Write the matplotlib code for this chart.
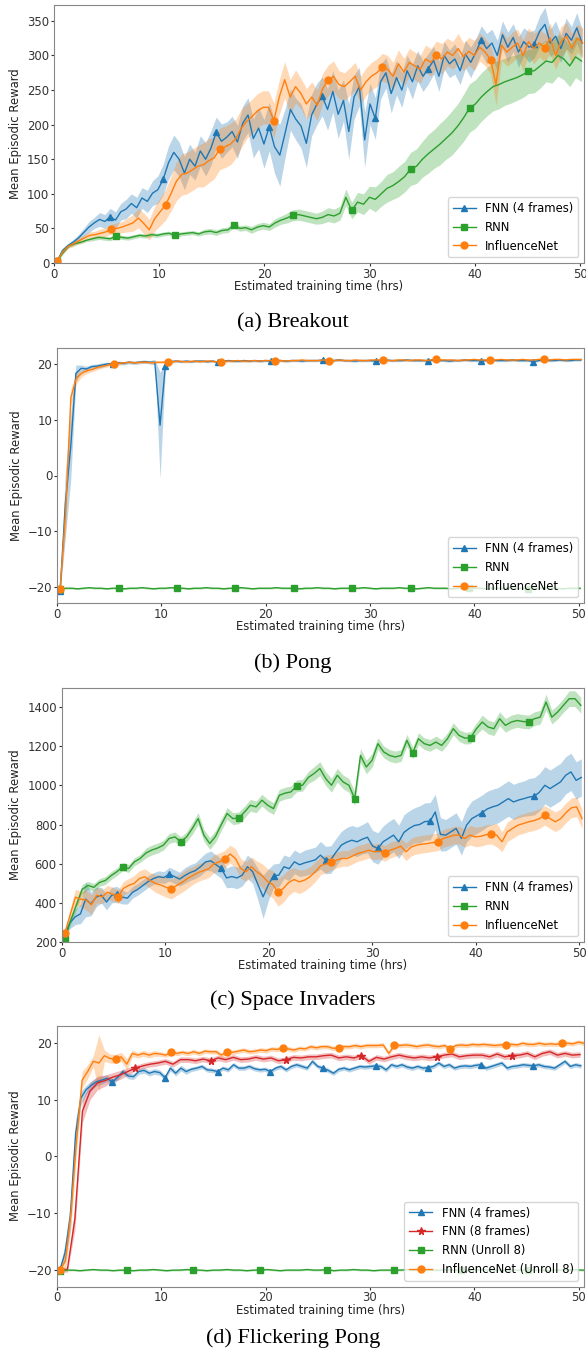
import numpy as np
import matplotlib
matplotlib.use("Agg")
import matplotlib.pyplot as plt

plt.rcParams['font.family'] = 'DejaVu Sans'
plt.rcParams['font.size'] = 8.4

BLUE, GREEN, ORANGE, RED = '#1f77b4', '#2ca02c', '#ff7f0e', '#d62728'

# hours between two logged evaluations (each method runs at its own speed)
T0 = 0.3
DT_FNN, DT_INF, DT_RNN = 0.504, 0.515, 0.56
DT_FNN8, DT_INF8, DT_RNN8 = 0.722, 0.534, 0.64

xticks = [0, 10, 20, 30, 40, 50]

# ---------------- (a) Breakout ----------------
bo_fnn = [3, 18, 25, 30, 36, 44, 52, 58, 63, 60,
          67, 62, 74, 78, 86, 80, 94, 89, 101, 106,
          121, 145, 160, 150, 130, 150, 140, 162, 150, 166,
          189, 176, 182, 190, 175, 202, 214, 180, 195, 172,
          197, 168, 156, 188, 222, 208, 198, 173, 214, 230,
          241, 222, 248, 215, 235, 190, 240, 255, 178, 230,
          209, 262, 275, 245, 268, 250, 278, 262, 285, 270,
          281, 293, 270, 300, 288, 295, 278, 302, 290, 305,
          323, 310, 318, 300, 330, 312, 326, 305, 320, 312,
          317, 335, 345, 318, 328, 310, 332, 322, 340, 318]
bo_fnn_sd = [1, 3, 3, 4, 5, 6, 8, 8, 10, 10,
             12, 12, 12, 14, 14, 15, 15, 16, 18, 20,
             22, 24, 25, 25, 24, 22, 20, 22, 24, 25,
             22, 25, 22, 22, 24, 25, 25, 28, 30, 35,
             35, 38, 45, 35, 30, 30, 32, 35, 30, 30,
             28, 30, 30, 35, 30, 40, 32, 28, 40, 30,
             30, 25, 22, 28, 25, 25, 22, 25, 22, 22,
             22, 20, 22, 20, 20, 22, 20, 20, 22, 20,
             20, 22, 20, 22, 20, 22, 20, 22, 20, 22,
             20, 22, 25, 20, 22, 20, 22, 20, 22, 20]
bo_inf = [3, 16, 24, 28, 32, 36, 40, 41, 43, 45,
          49, 50, 52, 55, 58, 65, 57, 48, 64, 74,
          84, 100, 118, 128, 130, 135, 140, 142, 148, 152,
          165, 168, 172, 180, 195, 205, 212, 220, 225, 225,
          206, 240, 265, 240, 255, 245, 230, 240, 228, 252,
          264, 270, 258, 255, 262, 270, 250, 262, 270, 275,
          283, 280, 270, 288, 276, 290, 285, 280, 295, 290,
          301, 295, 305, 300, 310, 298, 306, 300, 312, 305,
          294, 258, 315, 305, 312, 318, 300, 320, 310, 318,
          311, 325, 300, 320, 328, 310, 325, 318]
bo_inf_sd = [1, 3, 3, 4, 4, 5, 5, 5, 6, 6,
             7, 8, 8, 10, 12, 14, 15, 15, 18, 20,
             22, 25, 28, 30, 30, 30, 30, 32, 32, 30,
             30, 30, 30, 28, 28, 25, 25, 25, 24, 24,
             25, 25, 26, 25, 24, 22, 22, 22, 22, 22,
             22, 22, 20, 20, 20, 20, 20, 20, 20, 20,
             20, 20, 20, 20, 20, 20, 20, 20, 20, 20,
             20, 22, 20, 20, 22, 20, 20, 22, 20, 20,
             20, 30, 22, 20, 22, 20, 22, 20, 22, 20,
             20, 22, 20, 22, 20, 22, 20, 22]
bo_rnn = [3, 15, 25, 28, 30, 33, 35, 37, 36, 35,
          39, 37, 36, 38, 40, 39, 41, 40, 42, 43,
          40, 42, 43, 44, 42, 45, 46, 44, 47, 48,
          55, 50, 51, 48, 52, 54, 52, 58, 62, 65,
          69, 70, 68, 66, 64, 66, 70, 68, 72, 95,
          76, 88, 85, 95, 92, 100, 108, 112, 118, 125,
          136, 140, 150, 158, 165, 172, 180, 188, 198, 210,
          224, 230, 240, 248, 255, 258, 262, 265, 268, 272,
          277, 278, 285, 292, 290, 300, 295, 285, 298, 292]
bo_rnn_sd = [1, 2, 2, 2, 2, 2, 3, 3, 3, 3,
             3, 3, 3, 3, 3, 3, 3, 3, 3, 3,
             3, 3, 3, 3, 3, 4, 4, 4, 4, 4,
             4, 4, 4, 5, 5, 5, 5, 6, 6, 7,
             8, 8, 8, 8, 8, 9, 10, 10, 10, 12,
             12, 14, 15, 16, 18, 18, 20, 20, 22, 22,
             24, 25, 26, 28, 28, 30, 30, 32, 32, 34,
             35, 35, 35, 35, 35, 35, 34, 34, 33, 33,
             32, 32, 32, 30, 30, 30, 30, 30, 30, 30]

# ---------------- (b) Pong ----------------
po_fnn = [-20.7, -5.0, 5.0, 18.3, 19.2, 19.1, 19.5, 19.6, 19.8, 20.0,
          20.0, 20.2, 20.1, 20.3, 20.2, 20.3, 20.4, 20.3, 20.3, 9.0,
          19.6, 20.4, 20.5, 20.4, 20.5, 20.4, 20.5, 20.5, 20.4, 20.5,
          20.3, 20.5, 20.6, 20.5, 20.5, 20.6, 20.5, 20.6, 20.5, 20.6,
          20.5, 20.6, 20.6, 20.5, 20.6, 20.6, 20.5, 20.6, 20.6, 20.6,
          20.7, 20.6, 20.6, 20.7, 20.6, 20.6, 20.5, 20.6, 20.6, 20.6,
          20.5, 20.6, 20.7, 20.6, 20.6, 20.6, 20.7, 20.6, 20.6, 20.6,
          20.6, 20.7, 20.6, 20.6, 20.5, 20.6, 20.6, 20.7, 20.6, 20.6,
          20.6, 20.6, 20.7, 20.6, 20.6, 20.6, 20.7, 20.6, 20.6, 20.6,
          20.4, 20.6, 20.7, 20.6, 20.6, 20.7, 20.6, 20.6, 20.7, 20.7]
po_fnn_sd = [0.3, 6.0, 6.0, 1.5, 0.6, 0.5, 0.4, 0.4, 0.4, 0.3,
             0.3, 0.3, 0.3, 0.3, 0.3, 0.3, 0.3, 0.3, 0.5, 9.5,
             0.8, 0.3, 0.2, 0.2, 0.2, 0.2, 0.2, 0.2, 0.2, 0.2,
             0.2, 0.2, 0.2, 0.2, 0.2, 0.2, 0.2, 0.2, 0.2, 0.2,
             0.2, 0.2, 0.2, 0.2, 0.2, 0.2, 0.2, 0.2, 0.2, 0.2,
             0.2, 0.2, 0.2, 0.2, 0.2, 0.2, 0.2, 0.2, 0.2, 0.2,
             0.2, 0.2, 0.2, 0.2, 0.2, 0.2, 0.2, 0.2, 0.2, 0.2,
             0.2, 0.2, 0.2, 0.2, 0.2, 0.2, 0.2, 0.2, 0.2, 0.2,
             0.2, 0.2, 0.2, 0.2, 0.2, 0.2, 0.2, 0.2, 0.2, 0.2,
             0.2, 0.2, 0.2, 0.2, 0.2, 0.2, 0.2, 0.2, 0.2, 0.2]
po_inf = [-20.3, -7.0, 14.0, 17.4, 18.3, 18.8, 19.0, 19.4, 19.6, 19.8,
          20.0, 20.1, 20.2, 20.3, 20.2, 20.3, 20.3, 20.2, 20.3, 20.3,
          20.4, 20.4, 20.5, 20.4, 20.4, 20.5, 20.4, 20.5, 20.5, 20.4,
          20.4, 20.5, 20.5, 20.6, 20.5, 20.5, 20.6, 20.5, 20.6, 20.6,
          20.6, 20.6, 20.5, 20.6, 20.6, 20.7, 20.6, 20.6, 20.6, 20.7,
          20.6, 20.6, 20.7, 20.6, 20.6, 20.7, 20.6, 20.6, 20.7, 20.7,
          20.7, 20.6, 20.6, 20.7, 20.7, 20.6, 20.7, 20.7, 20.6, 20.7,
          20.8, 20.7, 20.7, 20.7, 20.6, 20.7, 20.7, 20.8, 20.7, 20.7,
          20.7, 20.7, 20.8, 20.7, 20.7, 20.7, 20.8, 20.7, 20.7, 20.8,
          20.8, 20.7, 20.8, 20.8, 20.7, 20.8, 20.8, 20.8]
po_inf_sd = [0.3, 3.0, 1.5, 1.0, 0.6, 0.5, 0.4, 0.4, 0.3, 0.3,
             0.3, 0.3, 0.2, 0.2, 0.2, 0.2, 0.2, 0.2, 0.2, 0.2,
             0.2, 0.2, 0.2, 0.2, 0.2, 0.2, 0.2, 0.2, 0.2, 0.2,
             0.2, 0.2, 0.2, 0.2, 0.2, 0.2, 0.2, 0.2, 0.2, 0.2,
             0.2, 0.2, 0.2, 0.2, 0.2, 0.2, 0.2, 0.2, 0.2, 0.2,
             0.2, 0.2, 0.2, 0.2, 0.2, 0.2, 0.2, 0.2, 0.2, 0.2,
             0.2, 0.2, 0.2, 0.2, 0.2, 0.2, 0.2, 0.2, 0.2, 0.2,
             0.2, 0.2, 0.2, 0.2, 0.2, 0.2, 0.2, 0.2, 0.2, 0.2,
             0.2, 0.2, 0.2, 0.2, 0.2, 0.2, 0.2, 0.2, 0.2, 0.2,
             0.2, 0.2, 0.2, 0.2, 0.2, 0.2, 0.2, 0.2]
po_rnn = [-20.3, -20.2, -20.2, -20.3, -20.2, -20.1, -20.2, -20.2, -20.3, -20.2,
          -20.2, -20.3, -20.2, -20.2, -20.1, -20.2, -20.3, -20.2, -20.2, -20.1,
          -20.2, -20.2, -20.3, -20.2, -20.2, -20.1, -20.2, -20.2, -20.3, -20.2,
          -20.2, -20.1, -20.2, -20.3, -20.2, -20.2, -20.2, -20.1, -20.2, -20.2,
          -20.2, -20.3, -20.2, -20.2, -20.1, -20.2, -20.2, -20.3, -20.2, -20.2,
          -20.2, -20.2, -20.1, -20.2, -20.3, -20.2, -20.2, -20.2, -20.1, -20.2,
          -20.2, -20.3, -20.2, -20.1, -20.2, -20.2, -20.2, -20.3, -20.2, -20.2,
          -20.1, -20.2, -20.2, -20.3, -20.2, -20.2, -20.2, -20.1, -20.2, -20.2,
          -20.3, -20.2, -20.2, -20.1, -20.2, -20.2, -20.3, -20.2, -20.2, -20.2]
po_rnn_sd = 0.15

# ---------------- (c) Space Invaders ----------------
si_fnn = [240, 300, 330, 345, 420, 395, 430, 440, 405, 440,
          445, 430, 425, 455, 470, 490, 510, 525, 534, 530,
          547, 535, 522, 540, 555, 565, 585, 610, 615, 595,
          576, 528, 535, 528, 542, 585, 560, 495, 432, 492,
          539, 542, 585, 575, 610, 595, 605, 612, 620, 644,
          619, 622, 660, 695, 710, 720, 712, 725, 735, 690,
          678, 712, 729, 746, 712, 760, 780, 795, 800, 815,
          817, 864, 750, 746, 763, 780, 729, 797, 830, 845,
          861, 880, 890, 898, 915, 932, 915, 925, 932, 940,
          944, 966, 1000, 983, 1000, 1017, 1051, 1068, 1025, 1040]
si_fnn_sd = [10, 30, 40, 50, 90, 60, 50, 40, 40, 40,
             40, 35, 30, 30, 30, 30, 30, 30, 30, 30,
             35, 35, 35, 40, 40, 40, 45, 45, 50, 50,
             50, 50, 55, 55, 55, 60, 60, 80, 110, 80,
             60, 60, 60, 60, 60, 60, 65, 65, 65, 70,
             70, 70, 70, 70, 75, 75, 75, 75, 80, 80,
             80, 80, 85, 85, 85, 90, 90, 90, 95, 95,
             95, 90, 85, 80, 80, 80, 85, 85, 90, 90,
             90, 90, 90, 90, 90, 90, 90, 90, 90, 95,
             95, 95, 95, 95, 95, 95, 95, 95, 95, 95]
si_inf = [246, 340, 430, 420, 415, 392, 440, 432, 455, 445,
          432, 475, 490, 500, 525, 534, 515, 500, 492, 480,
          471, 490, 505, 525, 540, 555, 565, 575, 600, 610,
          624, 650, 627, 576, 560, 585, 559, 540, 510, 495,
          454, 475, 505, 520, 508, 517, 534, 560, 590, 600,
          607, 619, 627, 627, 640, 653, 660, 669, 661, 665,
          653, 669, 678, 690, 661, 686, 695, 700, 703, 708,
          712, 729, 737, 746, 746, 729, 746, 737, 740, 748,
          751, 746, 712, 763, 780, 797, 805, 814, 820, 830,
          847, 830, 814, 830, 860, 885, 890, 830]
si_inf_sd = [10, 30, 40, 40, 50, 50, 40, 35, 35, 35,
             35, 35, 35, 40, 40, 40, 40, 45, 50, 50,
             50, 50, 50, 50, 45, 45, 45, 45, 45, 45,
             45, 45, 50, 50, 50, 50, 55, 60, 65, 70,
             70, 70, 65, 60, 60, 55, 50, 50, 45, 45,
             40, 40, 40, 40, 40, 40, 40, 40, 40, 40,
             40, 40, 40, 40, 45, 45, 45, 45, 45, 45,
             45, 45, 45, 45, 45, 45, 50, 50, 50, 50,
             50, 60, 50, 50, 50, 50, 50, 50, 50, 50,
             50, 50, 50, 50, 50, 50, 50, 50]
si_rnn = [217, 310, 390, 470, 490, 480, 505, 515, 540, 560,
          585, 576, 610, 627, 655, 670, 680, 695, 729, 737,
          712, 737, 780, 830, 745, 703, 740, 800, 856, 830,
          834, 864, 898, 890, 924, 898, 881, 949, 960, 966,
          997, 1000, 1040, 1060, 1085, 1034, 1000, 1051, 1017, 1000,
          932, 1152, 1093, 1127, 1212, 1170, 1152, 1144, 1152, 1229,
          1164, 1237, 1212, 1203, 1220, 1203, 1237, 1288, 1254, 1240,
          1242, 1288, 1322, 1297, 1288, 1339, 1305, 1322, 1330, 1325,
          1322, 1339, 1347, 1424, 1347, 1373, 1407, 1441, 1441, 1407]
si_rnn_sd = [5, 20, 25, 25, 20, 20, 20, 20, 20, 20,
             20, 20, 20, 20, 25, 25, 25, 25, 25, 25,
             25, 25, 30, 30, 30, 30, 30, 30, 30, 30,
             30, 30, 30, 30, 30, 30, 30, 30, 30, 30,
             30, 30, 30, 35, 35, 35, 35, 35, 35, 35,
             35, 35, 35, 35, 30, 30, 30, 30, 30, 30,
             30, 30, 30, 30, 30, 30, 30, 30, 30, 30,
             30, 30, 35, 35, 35, 35, 35, 35, 35, 35,
             35, 35, 35, 40, 35, 35, 35, 40, 40, 40]

# ---------------- (d) Flickering Pong ----------------
fp_fnn4 = [-20.1, -17.0, -10.5, 4.0, 10.3, 11.8, 12.6, 13.2, 13.5, 13.8,
           13.1, 14.0, 15.0, 14.2, 14.1, 15.0, 15.2, 14.7, 15.0, 14.8,
           13.9, 15.6, 14.7, 15.6, 15.0, 15.4, 15.6, 15.9, 15.3, 15.2,
           15.0, 15.6, 15.3, 16.2, 15.6, 15.6, 15.9, 15.5, 15.3, 15.4,
           15.0, 15.6, 15.9, 15.3, 15.9, 16.2, 15.9, 15.6, 16.8, 15.9,
           15.6, 15.2, 14.7, 15.4, 15.6, 15.3, 15.6, 15.9, 15.8, 15.9,
           16.0, 15.9, 15.3, 16.2, 15.9, 16.2, 15.8, 15.6, 15.9, 15.6,
           15.7, 15.9, 16.5, 15.9, 16.2, 15.6, 15.9, 16.0, 15.9, 16.1,
           16.2, 15.6, 15.9, 16.2, 16.5, 15.6, 15.9, 16.0, 16.2, 16.1,
           16.0, 16.2, 15.9, 15.8, 15.6, 16.2, 16.8, 15.9, 16.2, 16.0]
fp_fnn4_sd = [0.3, 1.5, 2.5, 2.5, 1.2, 0.8, 0.8, 0.7, 0.7, 0.6,
              0.6, 0.5, 0.5, 0.5, 0.5, 0.5, 0.5, 0.5, 0.5, 0.5,
              0.5, 0.5, 0.5, 0.5, 0.5, 0.4, 0.4, 0.4, 0.4, 0.4,
              0.4, 0.4, 0.4, 0.4, 0.4, 0.4, 0.4, 0.4, 0.4, 0.4,
              0.4, 0.4, 0.4, 0.4, 0.4, 0.4, 0.4, 0.4, 0.4, 0.4,
              0.4, 0.4, 0.4, 0.4, 0.4, 0.4, 0.4, 0.4, 0.4, 0.4,
              0.4, 0.4, 0.4, 0.4, 0.4, 0.4, 0.4, 0.4, 0.4, 0.4,
              0.4, 0.4, 0.4, 0.4, 0.4, 0.4, 0.4, 0.4, 0.4, 0.4,
              0.4, 0.4, 0.4, 0.4, 0.4, 0.4, 0.4, 0.4, 0.4, 0.4,
              0.4, 0.4, 0.4, 0.4, 0.4, 0.4, 0.4, 0.4, 0.4, 0.4]
fp_fnn8 = [-20.1, -20.0, -11.0, 8.0, 11.5, 13.0, 13.4, 14.0, 14.4, 15.0,
           15.6, 16.0, 16.3, 16.5, 16.8, 16.3, 17.1, 17.1, 16.9, 17.2,
           16.9, 17.4, 17.1, 17.5, 17.1, 17.2, 17.5, 17.2, 17.4, 16.9,
           17.1, 17.5, 17.4, 17.6, 17.6, 17.8, 17.9, 17.4, 17.6, 17.4,
           17.8, 16.8, 17.5, 17.2, 17.6, 17.9, 17.6, 17.4, 17.6, 17.4,
           17.6, 17.9, 18.1, 17.6, 17.8, 17.9, 17.9, 17.6, 18.1, 17.6,
           17.8, 17.9, 18.2, 17.6, 18.2, 18.5, 17.9, 18.2, 17.9, 18.0]
fp_fnn8_sd = [0.3, 0.5, 2.0, 2.0, 1.5, 1.2, 1.0, 0.8, 0.8, 0.7,
              0.5, 0.5, 0.5, 0.5, 0.5, 0.5, 0.5, 0.5, 0.5, 0.5,
              0.5, 0.5, 0.5, 0.5, 0.5, 0.5, 0.5, 0.5, 0.5, 0.5,
              0.5, 0.5, 0.5, 0.5, 0.5, 0.5, 0.5, 0.5, 0.5, 0.5,
              0.5, 0.5, 0.5, 0.5, 0.5, 0.5, 0.5, 0.5, 0.5, 0.5,
              0.5, 0.5, 0.5, 0.5, 0.5, 0.5, 0.5, 0.5, 0.5, 0.5,
              0.5, 0.5, 0.5, 0.5, 0.5, 0.5, 0.5, 0.5, 0.5, 0.5]
fp_inf = [-20.0, -18.5, -10.0, 3.0, 13.5, 15.0, 16.8, 16.5, 17.8, 17.3,
          17.2, 17.6, 16.3, 18.2, 17.9, 18.2, 17.9, 18.2, 18.1, 17.9,
          18.4, 18.2, 18.4, 18.2, 18.5, 18.2, 18.6, 18.5, 18.5, 17.9,
          18.5, 18.4, 18.6, 18.8, 18.5, 18.6, 18.8, 18.7, 19.0, 18.9,
          19.2, 19.0, 18.8, 19.1, 19.0, 19.4, 19.2, 19.4, 19.4, 19.1,
          19.2, 19.4, 19.4, 19.6, 19.4, 19.6, 19.6, 19.6, 19.7, 18.2,
          19.7, 19.6, 19.7, 19.6, 19.4, 19.6, 19.7, 19.5, 19.4, 19.6,
          19.0, 19.6, 19.7, 19.6, 19.8, 19.7, 19.8, 19.7, 19.6, 19.7,
          19.7, 19.8, 19.7, 20.0, 19.8, 19.8, 20.0, 19.8, 19.9, 19.8,
          20.0, 20.0, 19.9, 20.2, 20.0]
fp_inf_sd = [0.3, 1.5, 2.5, 2.5, 1.5, 1.2, 1.0, 5.0, 1.0, 0.8,
             0.8, 0.8, 1.0, 0.6, 0.5, 0.5, 0.5, 0.5, 0.4, 0.4,
             0.4, 0.4, 0.4, 0.4, 0.4, 0.4, 0.4, 0.4, 0.4, 0.4,
             0.4, 0.4, 0.4, 0.4, 0.4, 0.4, 0.4, 0.4, 0.4, 0.4,
             0.4, 0.4, 0.4, 0.4, 0.4, 0.4, 0.4, 0.4, 0.4, 0.4,
             0.4, 0.4, 0.4, 0.4, 0.4, 0.4, 0.4, 0.4, 0.4, 0.4,
             0.4, 0.4, 0.4, 0.4, 0.4, 0.4, 0.4, 0.4, 0.4, 0.4,
             0.4, 0.4, 0.4, 0.4, 0.4, 0.4, 0.4, 0.4, 0.4, 0.4,
             0.4, 0.4, 0.4, 0.4, 0.4, 0.4, 0.4, 0.4, 0.4, 0.4,
             0.4, 0.4, 0.4, 0.4, 0.4]
fp_rnn = [-20.2, -20.1, -20.1, -20.2, -20.1, -20.0, -20.1, -20.1, -20.2, -20.1,
          -20.1, -20.2, -20.1, -20.1, -20.0, -20.1, -20.2, -20.1, -20.1, -20.0,
          -20.1, -20.1, -20.2, -20.1, -20.1, -20.0, -20.1, -20.1, -20.2, -20.1,
          -20.1, -20.0, -20.1, -20.2, -20.1, -20.1, -20.1, -20.0, -20.1, -20.1,
          -20.0, -20.2, -20.1, -20.1, -20.0, -20.1, -20.1, -20.2, -20.1, -20.1,
          -20.1, -20.1, -20.0, -20.1, -20.2, -20.1, -20.1, -20.1, -20.0, -20.1,
          -20.1, -20.2, -20.1, -20.0, -20.1, -20.1, -20.1, -20.2, -20.1, -20.1,
          -20.0, -20.1, -20.1, -20.2, -20.1, -20.1, -20.1, -20.0, -20.1, -20.1]
fp_rnn_sd = 0.15


def curve(ax, mean, sd, dt, color, marker, ms, label):
    mean = np.asarray(mean, float)
    sd = np.asarray(sd, float)
    if sd.ndim == 0:
        sd = np.full(mean.shape, float(sd))
    n = min(len(mean), len(sd))
    mean, sd = mean[:n], sd[:n]
    t = T0 + dt * np.arange(n)
    ax.fill_between(t, mean - sd, mean + sd, color=color, alpha=0.3, lw=0)
    ax.plot(t, mean, color=color, lw=1.0, marker=marker, ms=ms,
            markevery=10, label=label)


def style(ax, ylim, yticks, xmax):
    ax.set_xlim(0, xmax)
    ax.set_ylim(*ylim)
    ax.set_xticks(xticks)
    ax.set_yticks(yticks)
    for s in ax.spines.values():
        s.set_color('#888888')
    ax.tick_params(colors='#333333', labelsize=8.4, length=2, pad=1.5)
    ax.set_xlabel('Estimated training time (hrs)', color='#222222', labelpad=-0.5)
    ax.set_ylabel('Mean Episodic Reward', color='#222222', labelpad=3.5)
    ax.legend(loc='lower right', fontsize=8.4)


W, H = 586, 1354
fig = plt.figure(figsize=(W / 100, H / 100), dpi=100)

# (a)
ax = fig.add_axes([54 / W, 1 - 263 / H, 530 / W, 258 / H])
curve(ax, bo_fnn, bo_fnn_sd, DT_FNN, BLUE, '^', 5, 'FNN (4 frames)')
curve(ax, bo_rnn, bo_rnn_sd, DT_RNN, GREEN, 's', 4.5, 'RNN')
curve(ax, bo_inf, bo_inf_sd, DT_INF, ORANGE, 'o', 5, 'InfluenceNet')
style(ax, (0, 373), [0, 50, 100, 150, 200, 250, 300, 350], 50.38)

# (b)
ax = fig.add_axes([57 / W, 1 - 603.3 / H, 527 / W, 255.6 / H])
curve(ax, po_fnn, po_fnn_sd, DT_FNN, BLUE, '^', 5, 'FNN (4 frames)')
curve(ax, po_rnn, po_rnn_sd, DT_RNN, GREEN, 's', 4.5, 'RNN')
curve(ax, po_inf, po_inf_sd, DT_INF, ORANGE, 'o', 5, 'InfluenceNet')
style(ax, (-22.9, 22.9), [-20, -10, 0, 10, 20], 50.5)

# (c)
ax = fig.add_axes([61.7 / W, 1 - 942.3 / H, 522.3 / W, 254.6 / H])
curve(ax, si_fnn, si_fnn_sd, DT_FNN, BLUE, '^', 5, 'FNN (4 frames)')
curve(ax, si_rnn, si_rnn_sd, DT_RNN, GREEN, 's', 4.5, 'RNN')
curve(ax, si_inf, si_inf_sd, DT_INF, ORANGE, 'o', 5, 'InfluenceNet')
style(ax, (200, 1497), [200, 400, 600, 800, 1000, 1200, 1400], 50.45)

# (d)
ax = fig.add_axes([56.7 / W, 1 - 1286.5 / H, 527.3 / W, 260.8 / H])
curve(ax, fp_fnn4, fp_fnn4_sd, DT_FNN, BLUE, '^', 5, 'FNN (4 frames)')
curve(ax, fp_fnn8, fp_fnn8_sd, DT_FNN8, RED, '*', 5.5, 'FNN (8 frames)')
curve(ax, fp_rnn, fp_rnn_sd, DT_RNN8, GREEN, 's', 4.5, 'RNN (Unroll 8)')
curve(ax, fp_inf, fp_inf_sd, DT_INF8, ORANGE, 'o', 5, 'InfluenceNet (Unroll 8)')
style(ax, (-23.0, 23.1), [-20, -10, 0, 10, 20], 50.5)

captions = ['(a) Breakout', '(b) Pong', '(c) Space Invaders', '(d) Flickering Pong']
caption_y = [323, 663, 1000, 1338]
for txt, y in zip(captions, caption_y):
    fig.text(0.5, 1 - y / H, txt, ha='center', va='center',
             family='Liberation Serif', fontsize=16)

fig.savefig('out.png', dpi=100)
